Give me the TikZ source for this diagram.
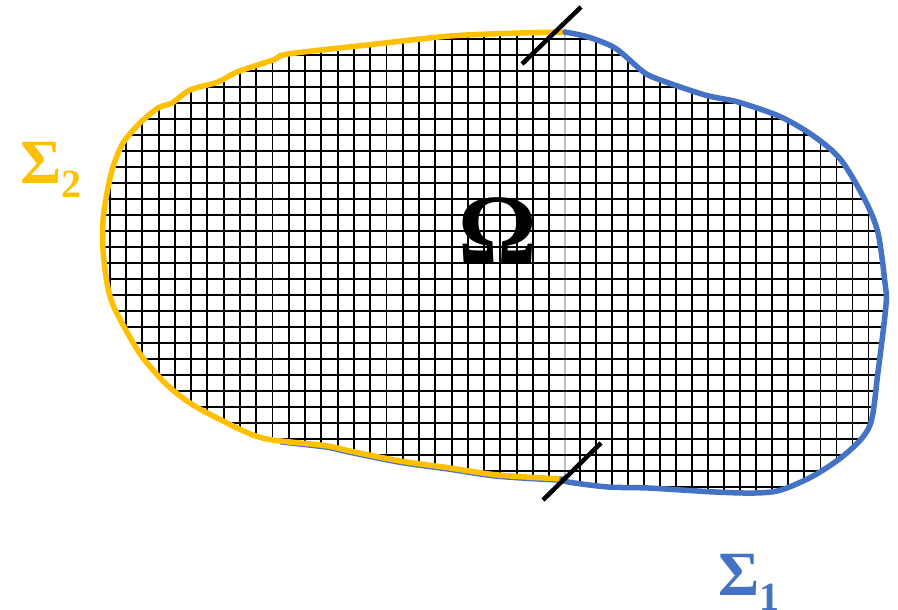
\documentclass[tikz,border=0pt]{standalone}
\usepackage{fontspec}
\setmainfont{Liberation Serif}
\definecolor{sigyellow}{HTML}{FFC000}
\definecolor{sigblue}{HTML}{4472C4}
\tikzset{
  gridline/.style={black, line width=1.9pt},
  seamline/.style={black!25, line width=1.2pt},
  bndyellow/.style={sigyellow, line width=5.5pt, line join=round, line cap=round},
  bndblue/.style={sigblue, line width=5.5pt, line join=round, line cap=round},
  bndunder/.style={sigblue, line width=5pt, line join=round},
  tickmark/.style={black, line width=4.5pt},
  lbl/.style={inner sep=0pt, anchor=base west, font=\bfseries},
}
\begin{document}
\begin{tikzpicture}[x=1pt, y=-1pt]
\useasboundingbox (0,0) rectangle (898,610);
\coordinate (topsplit) at (565,32);
\coordinate (botsplit) at (562,479);
\begin{scope}
\clip plot[smooth, tension=0.5] coordinates {(565,32) (520,33) (450,36) (367,45) (288,54) (273,60) (237,72) (218,82) (190,90) (172,103) (158,108) (140,123) (123,143) (113,167) (107,193) (103,220) (103,250) (107,283) (113,305) (127,332) (143,358) (167,385) (193,405) (227,423) (253,435) (273,440) (320,445) (333,447) (350,451) (400,461) (450,468) (498,475) (562,479)}
 -- plot[smooth, tension=0.5] coordinates {(562,479) (568,482) (608,487) (648,488) (715,492) (755,493) (781,490) (815,475) (848,452) (870,425) (878,372) (886,305) (885,283) (878,233) (865,200) (841,160) (815,137) (781,117) (738,102) (705,95) (655,78) (641,70) (615,48) (588,37) (565,32)} -- cycle;
\fill[white] (0,0) rectangle (898,610);
\foreach \k in {-7,...,26} \draw[gridline] ({126+16.28*\k},0) -- ({126+16.28*\k},610);
\draw[seamline] (565,0) -- (565,610);
\foreach \k in {0,...,20} \draw[gridline] ({580+16.03*\k},0) -- ({580+16.03*\k},610);
\foreach \k in {-8,...,21} \draw[gridline] (0,{150.7+16*\k}) -- (898,{150.7+16*\k});
\end{scope}
% blue edge showing beneath the yellow at the bottom
\draw[bndunder] plot[smooth, tension=0.5] coordinates {(280,442) (320,446.5) (333,448.5) (350,452.5) (400,462.5) (450,469.5) (498,476.5) (562,480.5)};
% yellow boundary Sigma_2
\draw[bndyellow] plot[smooth, tension=0.5] coordinates {(565,32) (520,33) (450,36) (367,45) (288,54) (273,60) (237,72) (218,82) (190,90) (172,103) (158,108) (140,123) (123,143) (113,167) (107,193) (103,220) (103,250) (107,283) (113,305) (127,332) (143,358) (167,385) (193,405) (227,423) (253,435) (273,440) (320,445) (333,447) (350,451) (400,461) (450,468) (498,475) (562,479)};
% blue boundary Sigma_1
\draw[bndblue] plot[smooth, tension=0.5] coordinates {(562,479) (568,482) (608,487) (648,488) (715,492) (755,493) (781,490) (815,475) (848,452) (870,425) (878,372) (886,305) (885,283) (878,233) (865,200) (841,160) (815,137) (781,117) (738,102) (705,95) (655,78) (641,70) (615,48) (588,37) (565,32)};
% split ticks
\coordinate (t1a) at (522,64);
\coordinate (t1b) at (581,7);
\coordinate (t2a) at (543,500);
\coordinate (t2b) at (601,443);
\draw[tickmark] (t1a) -- (t1b);
\draw[tickmark] (t2a) -- (t2b);
% labels
\node[lbl, text=black, font=\bfseries\fontsize{98}{100}\selectfont, anchor=base] (omega) at (497.5,262) {Ω};
\node[lbl, text=sigyellow, font=\bfseries\fontsize{63}{66}\selectfont] (sig2) at (20,183) {Σ\raisebox{-14pt}{\fontsize{40}{42}\selectfont 2}};
\node[lbl, text=sigblue, font=\bfseries\fontsize{63}{66}\selectfont] (sig1) at (718.5,595) {Σ\raisebox{-15pt}{\fontsize{40}{42}\selectfont 1}};
\end{tikzpicture}
\end{document}
